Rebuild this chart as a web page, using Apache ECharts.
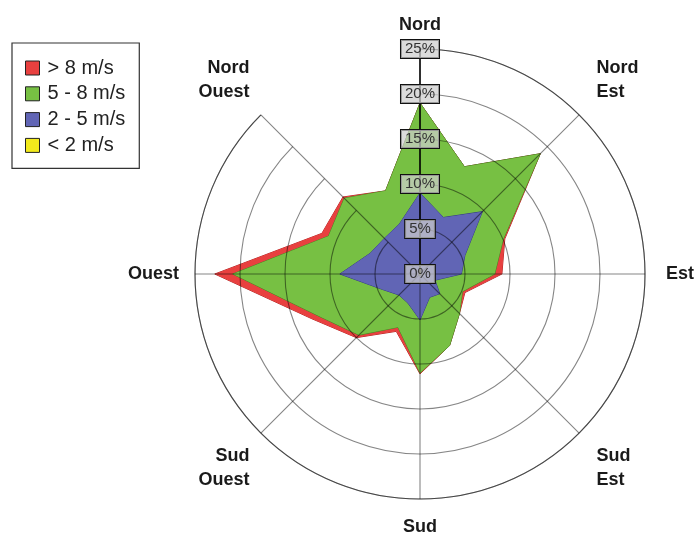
<!DOCTYPE html>
<html><head><meta charset="utf-8">
<script src="https://cdn.jsdelivr.net/npm/echarts@6/dist/echarts.min.js"></script>
<style>html,body{margin:0;padding:0;background:#fff}#c{width:697px;height:536px}</style>
</head><body><div id="c"></div>
<script>
// 16 wind directions, clockwise from north
const directions = ['N','NNE','NE','ENE','E','ESE','SE','SSE','S','SSW','SW','WSW','W','WNW','NW','NNW'];
// 8 labelled main directions, clockwise from north
const mainDirections = ['N','NE','E','SE','S','SW','W','NW'];
const mainLabels = ['Nord','Nord\nEst','Est','Sud\nEst','Sud','Sud\nOuest','Ouest','Nord\nOuest'];
const radiusTicks = [0, 5, 10, 15, 20, 25];
const classNames = ['> 8 m/s', '5 - 8 m/s', '2 - 5 m/s', '< 2 m/s'];
// frequency (%) per speed class and direction
const lt2 = [1.4,0.1,0.1,0.1,0.1,0.1,0.1,0.1,0.1,0.1,0.1,0.1,0.1,0.1,0.1,0.1];
const b25 = [7.6,6.7,9.7,5.3,4.5,1.7,3.0,2.7,5.0,3.4,3.2,4.4,8.8,5.9,5.5,5.9];
const b58 = [10.0,6.1,9.1,4.6,3.7,3.3,3.1,5.8,5.9,2.9,6.3,7.7,11.9,5.0,6.3,4.0];
const gt8 = [0.0,0.0,0.0,0.2,0.8,0.3,0.0,0.0,0.1,0.5,0.4,0.8,2.0,0.8,0.2,0.0];

const fills = ['#e8403f', '#77c043', '#6165b5', '#f2ea1c'];
const edges = ['#b02424', '#3f8a22', '#35388a', '#a8a000'];

// stacking (cumulative), from innermost class outward
const classes = [gt8, b58, b25, lt2];
const cum = [];
let run = directions.map(() => 0);
for (let k = classes.length - 1; k >= 0; k--) {
  run = run.map((v, i) => Math.round((v + classes[k][i]) * 100) / 100);
  cum[k] = run.slice();
}
// radar goes counter-clockwise: reorder
const order = [0].concat(directions.map((d, i) => i).slice(1).reverse());
const toRadar = arr => order.map(i => arr[i]);

const font = '"Liberation Sans", Arial, Helvetica, sans-serif';
const gridColor = 'rgba(0,0,0,0.48)';
const rMax = radiusTicks[radiusTicks.length - 1];
const rStep = radiusTicks[1] - radiusTicks[0];

// small per-label placement tweaks
const labelTweaks = {
  N: {lineHeight: 16},
  NE: {padding: [0, 0, 0, 6]},
  E: {padding: [0, 0, 0, 5]},
  SE: {padding: [0, 0, 0, 6]}
};

const chart = echarts.init(document.getElementById('c'), null, {renderer: 'canvas'});
chart.setOption({
  animation: false,
  backgroundColor: '#fff',
  legend: {
    orient: 'vertical', left: 12, top: 43,
    padding: [15, 14, 13, 13],
    backgroundColor: '#fff', borderColor: '#333', borderWidth: 1.2, borderRadius: 0,
    itemWidth: 14, itemHeight: 14, itemGap: 5.8,
    icon: 'rect',
    itemStyle: {borderColor: '#222', borderWidth: 1},
    textStyle: {fontFamily: font, fontSize: 20, color: '#222', lineHeight: 20, padding: [0, 0, 0, 3]},
    data: classNames
  },
  polar: {center: [420, 274], radius: 225},
  angleAxis: {
    type: 'category', boundaryGap: false,
    data: mainDirections.map((d, i) => ({value: d, textStyle: labelTweaks[d] || {}})),
    startAngle: 90, clockwise: true, z: 3,
    axisLine: {show: true, lineStyle: {color: gridColor, width: 1.1}},
    axisTick: {show: false},
    splitLine: {show: true, lineStyle: {color: gridColor, width: 1.1}},
    axisLabel: {
      interval: 0, margin: 16,
      formatter: (v, i) => mainLabels[i],
      fontFamily: font, fontSize: 18, fontWeight: 'bold', color: '#1a1a1a', lineHeight: 24
    }
  },
  radiusAxis: {
    type: 'value', min: radiusTicks[0], max: rMax, interval: rStep, z: 4,
    axisLine: {show: true, lineStyle: {color: '#000', width: 1.5}},
    axisTick: {show: false},
    splitLine: {show: true, lineStyle: {color: gridColor, width: 1.1}},
    axisLabel: {
      show: true, margin: 0, align: 'center', verticalAlign: 'middle',
      formatter: '{value}%', fontFamily: font, fontSize: 15, color: '#333',
      backgroundColor: 'rgba(205,205,205,0.72)', borderColor: '#111', borderWidth: 1,
      padding: [2, 4, 1, 4], showMinLabel: true, showMaxLabel: true
    }
  },
  radar: {
    center: [420, 274], radius: 225, shape: 'circle', startAngle: 90,
    indicator: order.map(i => ({name: directions[i], min: 0, max: rMax})),
    axisName: {show: false},
    axisLine: {show: false}, splitLine: {show: false}, splitArea: {show: false}, axisTick: {show: false}, axisLabel: {show: false}
  },
  series: classNames.map((name, k) => ({
    type: 'radar', name: name, z: 2, symbol: 'none',
    itemStyle: {color: fills[k], borderColor: '#222', borderWidth: 1},
    lineStyle: {color: edges[k], width: 1},
    areaStyle: {color: fills[k], opacity: 1},
    data: [{name: name, value: toRadar(cum[k])}]
  }))
});
</script></body></html>
